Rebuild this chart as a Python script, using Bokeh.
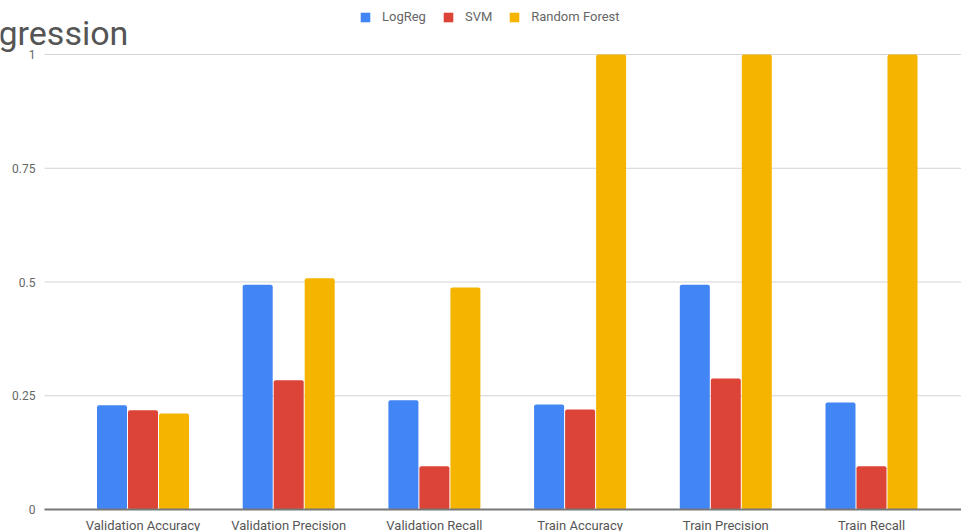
from bokeh.plotting import figure
from bokeh.models import ColumnDataSource, Legend, LegendItem, Range1d
from bokeh.core.properties import value
from bokeh.transform import dodge
from bokeh.embed import file_html
from bokeh.resources import INLINE

categories = ["Validation Accuracy", "Validation Precision", "Validation Recall",
              "Train Accuracy", "Train Precision", "Train Recall"]
logreg = [0.229, 0.494, 0.240, 0.231, 0.494, 0.235]
svm = [0.218, 0.284, 0.095, 0.220, 0.288, 0.095]
rforest = [0.211, 0.508, 0.488, 1.0, 1.0, 1.0]
series_names = ["LogReg", "SVM", "Random Forest"]
colors = ["#4285F4", "#DB4437", "#F4B400"]
y_ticks = [0, 0.25, 0.5, 0.75, 1]
y_tick_labels = ["0", "0.25", "0.5", "0.75", "1"]
title_text = "gression"

# layout in pixels
W, H = 961, 531
PLOT_LEFT, PLOT_TOP, PLOT_BOTTOM = 44, 54, 509
CAT0_PX, CAT_STEP = 142.5, 145.7
UNIT_PX = PLOT_BOTTOM - PLOT_TOP


def xd(px):
    return (px - CAT0_PX) / CAT_STEP


def yd(py):
    return (PLOT_BOTTOM - py) / UNIT_PX


FONT = "Roboto"
p = figure(width=W, height=H, output_backend="svg", toolbar_location=None,
           x_range=Range1d(xd(0), xd(W)), y_range=Range1d(yd(H), yd(0)),
           min_border=0)
p.outline_line_color = None
p.axis.visible = False
p.xgrid.grid_line_color = None
p.ygrid.grid_line_color = None

# gridlines
for t in y_ticks[1:]:
    p.segment(x0=xd(PLOT_LEFT), x1=xd(W), y0=t, y1=t, line_color="#d4d4d4", line_width=1)

src = ColumnDataSource(dict(x=list(range(len(categories))), logreg=logreg, svm=svm, rf=rforest,
                            label=categories))

w = 30 / CAT_STEP
off = 31 / CAT_STEP
renderers = []
for col, o, c in zip(["logreg", "svm", "rf"], [-off, 0, off], colors):
    r = p.vbar(x=dodge("x", o), top=col, width=w, bottom=0, source=src,
               fill_color=c, line_color=None, border_radius=2)
    renderers.append(r)

# baseline
p.segment(x0=xd(PLOT_LEFT), x1=xd(W), y0=0, y1=0, line_color="#777777", line_width=2)

# category labels
p.text(x="x", y=0, text="label", source=src, y_offset=8,
       text_font=value(FONT), text_font_size="13px", text_color="#555555",
       text_align="center", text_baseline="top")

# y tick labels
ysrc = ColumnDataSource(dict(y=y_ticks, t=y_tick_labels))
p.text(x=xd(PLOT_LEFT), y="y", text="t", source=ysrc, x_offset=-9,
       text_font=value(FONT), text_font_size="12px", text_color="#666666",
       text_align="right", text_baseline="middle")

# title fragment
p.text(x=[xd(-2)], y=[yd(32)], text=[title_text],
       text_font=value(FONT), text_font_size="34px", text_color="#555555",
       text_align="left", text_baseline="alphabetic")

legend = Legend(items=[LegendItem(label=n, renderers=[r]) for n, r in zip(series_names, renderers)],
                orientation="horizontal", location=(359, H - 24),
                padding=0, margin=0, spacing=16, label_standoff=11,
                glyph_width=12, glyph_height=12,
                border_line_color=None, background_fill_alpha=0,
                label_text_font=FONT, label_text_font_size="13px", label_text_color="#666666")
p.add_layout(legend, "center")

open("out.html", "w").write(file_html(p, INLINE))
